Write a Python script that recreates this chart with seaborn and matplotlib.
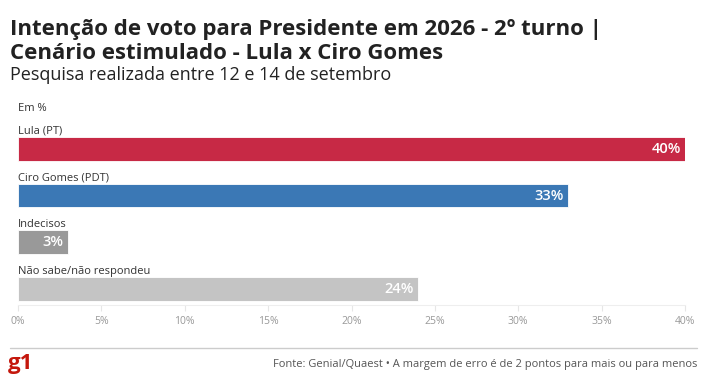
#!/usr/bin/env python3
"""Voting intention bar chart - 2nd round, Lula x Ciro Gomes."""

import pandas as pd
import matplotlib.pyplot as plt
import seaborn as sns

categories = ['Lula (PT)', 'Ciro Gomes (PDT)', 'Indecisos', 'Não sabe/não respondeu']
values = [40, 33, 3, 24]
colors = ['#c72945', '#3b78b5', '#999999', '#c4c4c4']
xticks = [0, 5, 10, 15, 20, 25, 30, 35, 40]

W, H = 705, 387


def main():
    sns.set_theme(style='white')
    plt.rcParams['font.family'] = ['Open Sans', 'DejaVu Sans']

    df = pd.DataFrame({'cat': categories, 'val': values})

    fig = plt.figure(figsize=(W / 100, H / 100), dpi=100)
    # axes from x=18..685 px, y=112..305 px
    ax = fig.add_axes([18 / W, 1 - 305 / H, (685 - 18) / W, (305 - 112) / H])

    sns.barplot(data=df, x='val', y='cat', hue='cat', palette=colors,
                orient='h', width=0.51, legend=False, ax=ax, saturation=1,
                edgecolor='white', linewidth=0.6)

    ax.set_xlim(0, 40)
    ax.set_ylim(3 + 0.338, -0.784)
    ax.set_xlabel('')
    ax.set_ylabel('')
    ax.set_yticks([])
    ax.set_xticks(xticks)
    ax.set_xticklabels([f'{t}%' for t in xticks], color='#999999', fontsize=7.5)
    ax.tick_params(axis='x', length=4, width=0.8, color='#e6e6e6', pad=4,
                   bottom=True)
    for s in ['top', 'right', 'left']:
        ax.spines[s].set_visible(False)
    ax.spines['bottom'].set_color('#eeeeee')
    ax.spines['bottom'].set_linewidth(0.8)

    for i, (cat, v) in enumerate(zip(categories, values)):
        ax.text(0, i - 0.32, cat, fontsize=8, color='#333333',
                va='baseline', ha='left')
        ax.text(v - 0.25, i, f'{v}%', fontsize=10.5, color='white',
                fontweight='semibold', va='center', ha='right')

    fig.text(10 / W, 1 - 35 / H,
             'Intenção de voto para Presidente em 2026 - 2º turno |',
             fontsize=16, fontweight='bold', color='#222222',
             va='baseline', ha='left')
    fig.text(10 / W, 1 - 59 / H, 'Cenário estimulado - Lula x Ciro Gomes',
             fontsize=16, fontweight='bold', color='#222222',
             va='baseline', ha='left')
    fig.text(10 / W, 1 - 80 / H, 'Pesquisa realizada entre 12 e 14 de setembro',
             fontsize=13, color='#222222', va='baseline', ha='left')
    fig.text(18 / W, 1 - 111 / H, 'Em %', fontsize=8, color='#333333',
             va='baseline', ha='left')

    fig.add_artist(plt.Line2D([10 / W, 697 / W], [1 - 348 / H, 1 - 348 / H],
                              color='#cccccc', linewidth=1))
    fig.text(8 / W, 1 - 369 / H, 'g1', fontsize=16, fontweight='bold',
             color='#c4170c', va='baseline', ha='left')
    fig.text(697 / W, 1 - 367 / H,
             'Fonte: Genial/Quaest • A margem de erro é de 2 pontos para mais ou para menos',
             fontsize=8, color='#555555', va='baseline', ha='right')

    fig.savefig('out.png', dpi=100)


if __name__ == "__main__":
    main()
